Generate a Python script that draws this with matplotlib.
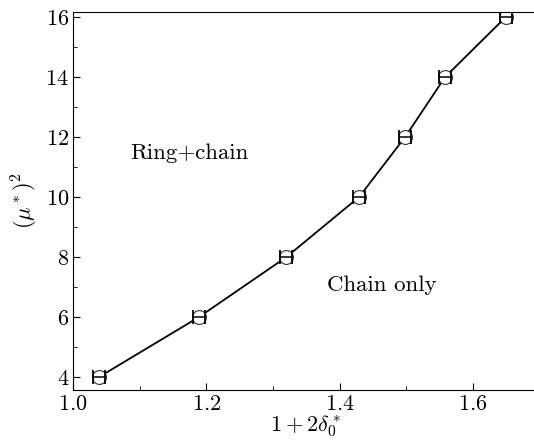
import numpy as np
import matplotlib
matplotlib.use('Agg')
from matplotlib import pyplot as plt
from matplotlib.ticker import MultipleLocator

plt.rcParams['font.family'] = 'serif'
plt.rcParams['font.serif'] = ['cmr10']
plt.rcParams['mathtext.fontset'] = 'cm'
plt.rcParams['axes.formatter.use_mathtext'] = True

# data
delta = np.array([1.039, 1.189, 1.320, 1.429, 1.498, 1.558, 1.649])
mu2 = np.array([4, 6, 8, 10, 12, 14, 16])
delta_err = np.array([0.009, 0.009, 0.009, 0.009, 0.009, 0.009, 0.009])

fig = plt.figure(figsize=(5.34, 4.44), dpi=100)
ax = fig.add_axes([0.137, 0.122, 0.87, 0.851])

ax.plot(delta, mu2, '-', color='black', lw=1.3, zorder=1)
# open circles, line hidden inside
ax.plot(delta, mu2, 'o', mfc='white', mec='#333333', ms=10, mew=0.8, zorder=2)
ax.errorbar(delta, mu2, xerr=delta_err, fmt='none', ecolor='black',
            elinewidth=1.1, capsize=5, capthick=1.3, zorder=3)

ax.text(1.175, 11.45, 'Ring+chain', fontsize=16.5, ha='center', va='center')
ax.text(1.463, 7.05, 'Chain only', fontsize=16.5, ha='center', va='center')

ax.set_xlim(1.0, 1.697)
ax.set_ylim(3.57, 16.17)
ax.xaxis.set_major_locator(MultipleLocator(0.2))
ax.xaxis.set_minor_locator(MultipleLocator(0.1))
ax.yaxis.set_major_locator(MultipleLocator(2))
ax.yaxis.set_minor_locator(MultipleLocator(1))
ax.tick_params(which='both', direction='in', top=False, right=False, labelsize=16)
ax.tick_params(which='major', length=5, pad=3)
ax.tick_params(which='minor', length=3)
ax.spines['right'].set_visible(False)

ax.set_xlabel(r'$1+2\delta_0^*$', fontsize=16, labelpad=0)
ax.set_ylabel(r'$(\mu^*)^2$', fontsize=16, labelpad=4)

plt.savefig('out.png', dpi=100)
